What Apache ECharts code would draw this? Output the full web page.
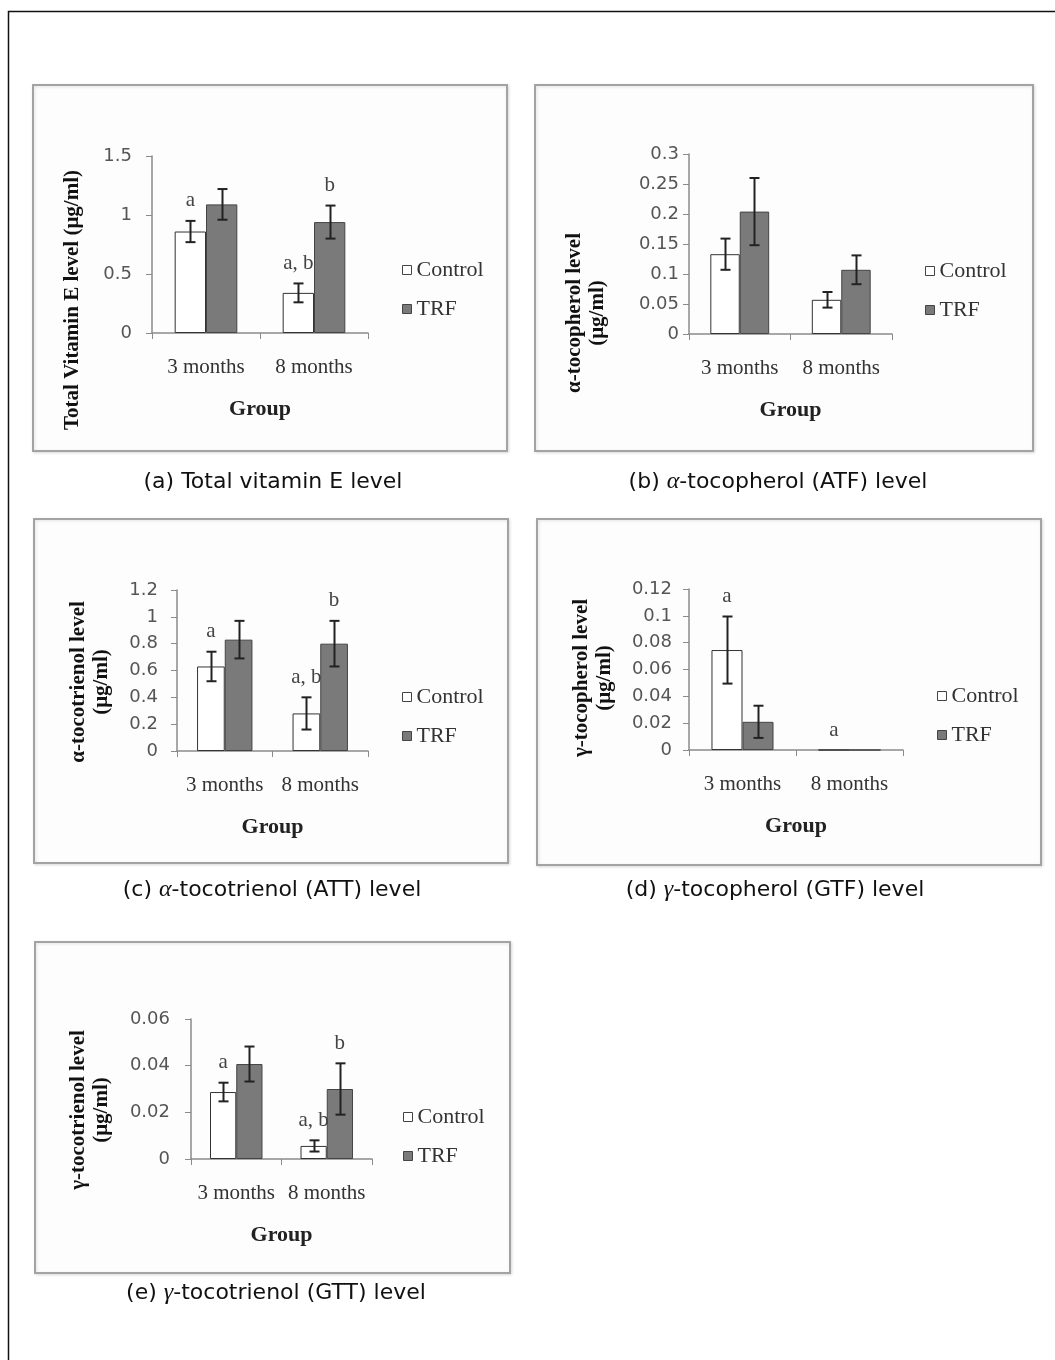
<!DOCTYPE html>
<html>
<head>
<meta charset="utf-8">
<script src="https://cdn.jsdelivr.net/npm/echarts@6/dist/echarts.min.js"></script>
<style>
  body { margin: 0; background: #fff; }
  #chart { width: 1055px; height: 1360px; }
</style>
</head>
<body>
<div id="chart"></div>
<script>
// categories + legend names
const categories = ['3 months', '8 months']
const seriesNames = ['Control', 'TRF']

// (a) total vitamin E
const totalControl = [0.86, 0.34]
const totalControlErr = [0.09, 0.08]
const totalTrf = [1.09, 0.94]
const totalTrfErr = [0.13, 0.14]
const totalControlSig = ['a', 'a, b']
const totalTrfSig = ['', 'b']

// (b) alpha-tocopherol
const atfControl = [0.133, 0.057]
const atfControlErr = [0.026, 0.013]
const atfTrf = [0.204, 0.107]
const atfTrfErr = [0.056, 0.024]
const atfControlSig = ['', '']
const atfTrfSig = ['', '']

// (c) alpha-tocotrienol
const attControl = [0.63, 0.28]
const attControlErr = [0.11, 0.12]
const attTrf = [0.83, 0.80]
const attTrfErr = [0.14, 0.17]
const attControlSig = ['a', 'a, b']
const attTrfSig = ['', 'b']

// (d) gamma-tocopherol
const gtfControl = [0.0745, 0]
const gtfControlErr = [0.025, 0]
const gtfTrf = [0.021, 0]
const gtfTrfErr = [0.012, 0]
const gtfControlSig = ['a', 'a']
const gtfTrfSig = ['', '']

// (e) gamma-tocotrienol
const gttControl = [0.0287, 0.0056]
const gttControlErr = [0.004, 0.0024]
const gttTrf = [0.0407, 0.030]
const gttTrfErr = [0.0075, 0.011]
const gttControlSig = ['a', 'a, b']
const gttTrfSig = ['', 'b']

// axis ranges
const yMax = [1.5, 0.3, 1.2, 0.12, 0.06]
const yStep = [0.5, 0.05, 0.2, 0.02, 0.02]

const yTitles = [
  'Total Vitamin E level (μg/ml)',
  'α-tocopherol level\n(μg/ml)',
  'α-tocotrienol level\n(μg/ml)',
  'γ-tocopherol level\n(μg/ml)',
  'γ-tocotrienol level\n(μg/ml)'
]
const captions = [
  '(a) Total vitamin E level',
  '(b) {g|α}-tocopherol (ATF) level',
  '(c) {g|α}-tocotrienol (ATT) level',
  '(d) {g|γ}-tocopherol (GTF) level',
  '(e) {g|γ}-tocotrienol (GTT) level'
]

const panels = [
  { c: totalControl, ce: totalControlErr, t: totalTrf, te: totalTrfErr, cs: totalControlSig, ts: totalTrfSig },
  { c: atfControl, ce: atfControlErr, t: atfTrf, te: atfTrfErr, cs: atfControlSig, ts: atfTrfSig },
  { c: attControl, ce: attControlErr, t: attTrf, te: attTrfErr, cs: attControlSig, ts: attTrfSig },
  { c: gtfControl, ce: gtfControlErr, t: gtfTrf, te: gtfTrfErr, cs: gtfControlSig, ts: gtfTrfSig },
  { c: gttControl, ce: gttControlErr, t: gttTrf, te: gttTrfErr, cs: gttControlSig, ts: gttTrfSig }
]

// layout (pixels)
const grids = [
  { left: 152, top: 156, width: 216, height: 177 },
  { left: 689, top: 154, width: 203, height: 180 },
  { left: 177, top: 590, width: 191, height: 161 },
  { left: 689, top: 589, width: 214, height: 161 },
  { left: 191, top: 1019, width: 181, height: 140 }
]
const labelMargin = [20, 10, 19, 17, 21]
const legendPos = [[402, 259], [925, 260], [402, 686], [937, 685], [403, 1106]]
const boxes = [
  [33, 85, 474, 366], [535, 85, 498, 366],
  [34, 519, 474, 344], [537, 519, 504, 346],
  [35, 942, 475, 331]
]
const titlePos = [[73, 300], [586, 313], [90, 682], [593, 678], [90, 1110]]
const captionPos = [[273, 482], [778, 482], [272, 890], [775, 890], [276, 1293]]

const BAR_FRAC = 0.29
const axisColor = '#8a8a8a'
const serif = 'Liberation Serif'

function errItem(sign) {
  return function (params, api) {
    const ci = api.value(0)
    const v = api.value(1)
    const e = api.value(2)
    if (!e) return null
    const band = api.size([1, 0])[0]
    const dx = sign * band * BAR_FRAC / 2
    const top = api.coord([ci, v + e])
    const bot = api.coord([ci, v - e])
    const x = Math.round(top[0] + dx) + 0.5
    const cap = 5
    const st = { stroke: '#222', lineWidth: 2 }
    return {
      type: 'group',
      children: [
        { type: 'line', shape: { x1: x, y1: top[1], x2: x, y2: bot[1] }, style: st },
        { type: 'line', shape: { x1: x - cap, y1: top[1], x2: x + cap, y2: top[1] }, style: st },
        { type: 'line', shape: { x1: x - cap, y1: bot[1], x2: x + cap, y2: bot[1] }, style: st }
      ]
    }
  }
}

function sigItem(sign, letters) {
  return function (params, api) {
    const txt = letters[params.dataIndex]
    if (!txt) return null
    const ci = api.value(0)
    const band = api.size([1, 0])[0]
    const p = api.coord([ci, api.value(1) + api.value(2)])
    return {
      type: 'text',
      x: p[0] + sign * band * BAR_FRAC / 2,
      y: p[1] - 20,
      style: {
        text: txt, fontFamily: serif, fontSize: 21, fill: '#444',
        align: 'center', verticalAlign: 'middle'
      }
    }
  }
}

const grid = [], xAxis = [], yAxis = [], series = [], legend = [], elements = []

// outer frame
elements.push({
  type: 'polyline', silent: true,
  shape: { points: [[8.5, 1370], [8.5, 11.5], [1070, 11.5]] },
  style: { stroke: '#111', lineWidth: 1.5, fill: null }
})

panels.forEach((p, i) => {
  const b = boxes[i]
  elements.push({
    type: 'rect', silent: true, z: -10,
    shape: { x: b[0], y: b[1], width: b[2], height: b[3] },
    style: { fill: '#fdfdfd', stroke: '#a3a3a3', lineWidth: 2,
      shadowColor: 'rgba(0,0,0,0.12)', shadowBlur: 3, shadowOffsetX: 1, shadowOffsetY: 1 }
  })
  elements.push({
    type: 'text', silent: true,
    x: titlePos[i][0], y: titlePos[i][1], rotation: Math.PI / 2,
    style: {
      text: yTitles[i], fontFamily: serif, fontWeight: 'bold', fontSize: 21,
      lineHeight: 23, fill: '#111', align: 'center', verticalAlign: 'middle'
    }
  })
  elements.push({
    type: 'text', silent: true,
    x: captionPos[i][0], y: captionPos[i][1],
    style: {
      text: captions[i], fontFamily: 'DejaVu Sans', fontSize: 22, fill: '#111',
      align: 'center', verticalAlign: 'middle',
      rich: { g: { fontFamily: serif, fontStyle: 'italic', fontSize: 24, fill: '#111' } }
    }
  })

  grid.push(Object.assign({}, grids[i]))
  xAxis.push({
    type: 'category', gridIndex: i, data: categories,
    axisLine: { lineStyle: { color: axisColor, width: 1.5 } },
    axisTick: { show: true, length: 6, lineStyle: { color: axisColor } },
    axisLabel: { interval: 0, hideOverlap: false, fontFamily: serif, fontSize: 21, color: '#333', margin: 24 },
    name: 'Group', nameLocation: 'middle', nameGap: 65,
    nameTextStyle: { fontFamily: serif, fontWeight: 'bold', fontSize: 22, color: '#222' }
  })
  yAxis.push({
    type: 'value', gridIndex: i, min: 0, max: yMax[i], interval: yStep[i],
    splitLine: { show: false },
    axisLine: { show: true, lineStyle: { color: axisColor, width: 1.5 } },
    axisTick: { show: true, length: 6, lineStyle: { color: axisColor } },
    axisLabel: { fontFamily: 'DejaVu Sans', fontSize: 18, color: '#555', margin: labelMargin[i] }
  })
  legend.push({
    left: legendPos[i][0], top: legendPos[i][1], orient: 'vertical', padding: 0,
    itemWidth: 9, itemHeight: 9, itemGap: 17, selectedMode: false, icon: 'rect',
    textStyle: { fontFamily: serif, fontSize: 22, color: '#333' },
    data: [
      { name: 'Control', itemStyle: { color: '#fff', borderColor: '#444', borderWidth: 1 } },
      { name: 'TRF', itemStyle: { color: '#7a7a7a', borderColor: '#444', borderWidth: 1 } }
    ]
  })

  series.push({
    name: seriesNames[0], type: 'bar', xAxisIndex: i, yAxisIndex: i,
    barWidth: BAR_FRAC * 100 + '%', barGap: '0%', data: p.c,
    itemStyle: { color: '#fff', borderColor: '#333', borderWidth: 1 }
  })
  series.push({
    name: seriesNames[1], type: 'bar', xAxisIndex: i, yAxisIndex: i,
    barWidth: BAR_FRAC * 100 + '%', barGap: '0%', data: p.t,
    itemStyle: { color: '#7a7a7a', borderColor: '#444', borderWidth: 1 }
  })
  const cData = categories.map((c, k) => [k, p.c[k], p.ce[k]])
  const tData = categories.map((c, k) => [k, p.t[k], p.te[k]])
  series.push({ type: 'custom', xAxisIndex: i, yAxisIndex: i, z: 5, renderItem: errItem(-1), data: cData, encode: { x: 0, y: 1 } })
  series.push({ type: 'custom', xAxisIndex: i, yAxisIndex: i, z: 5, renderItem: errItem(1), data: tData, encode: { x: 0, y: 1 } })
  series.push({ type: 'custom', xAxisIndex: i, yAxisIndex: i, z: 6, renderItem: sigItem(-1, p.cs), data: cData, encode: { x: 0, y: 1 } })
  series.push({ type: 'custom', xAxisIndex: i, yAxisIndex: i, z: 6, renderItem: sigItem(1, p.ts), data: tData, encode: { x: 0, y: 1 } })
})

const chart = echarts.init(document.getElementById('chart'))
chart.setOption({
  animation: false,
  backgroundColor: '#fff',
  graphic: { elements: elements },
  grid: grid,
  xAxis: xAxis,
  yAxis: yAxis,
  legend: legend,
  series: series
})
</script>
</body>
</html>
